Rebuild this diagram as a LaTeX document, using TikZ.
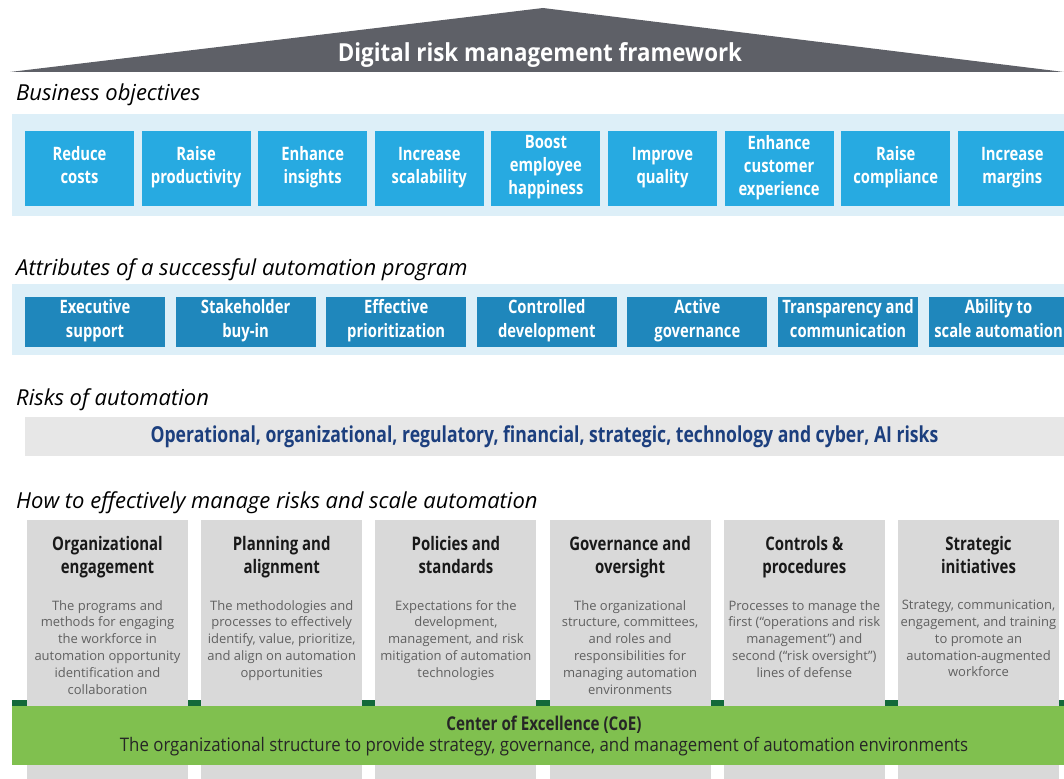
\documentclass[tikz,border=0pt]{standalone}
\usepackage{fontspec}
\setmainfont{Open Sans}
\newfontfamily\condfont[FakeStretch=0.8]{Open Sans}
\newfontfamily\semicondfont[FakeStretch=0.9]{Open Sans}
\definecolor{roofGray}{HTML}{5E6067}
\definecolor{bandBlue}{HTML}{DDEFF8}
\definecolor{objBlue}{HTML}{27AAE1}
\definecolor{attrBlue}{HTML}{1F87BC}
\definecolor{riskGray}{HTML}{E7E7E7}
\definecolor{riskNavy}{HTML}{1C3F7E}
\definecolor{colGray}{HTML}{D9D9D9}
\definecolor{descGray}{HTML}{606060}
\definecolor{coeGreen}{HTML}{80C04F}
\definecolor{coeDark}{HTML}{13693A}
\tikzstyle{secLabel}=[anchor = west, inner sep = 0pt, font = \itshape\fontsize{22}{25}\selectfont]
\tikzstyle{objBox}=[shape = rectangle, fill = objBlue, text = white, align = center, minimum width = 109pt, minimum height = 75pt, inner sep = 0pt, execute at begin node = \strut, execute at end node = \strut, font = \condfont\bfseries\fontsize{18.5}{23}\selectfont]
\tikzstyle{attrBox}=[shape = rectangle, fill = attrBlue, text = white, align = center, minimum width = 140pt, minimum height = 50pt, inner sep = 0pt, execute at begin node = \strut, execute at end node = \strut, font = \condfont\bfseries\fontsize{18.5}{24}\selectfont]

\begin{document}
\begin{tikzpicture}[x = 1pt, y = -1pt]
\tikzstyle{band}=[shape = rectangle, inner sep = 0pt]
\tikzstyle{colBox}=[shape = rectangle, fill = colGray, anchor = north, minimum width = 161pt, minimum height = 262pt, inner sep = 0pt]
\tikzstyle{colTitle}=[anchor = north, align = center, inner sep = 0pt, text = black!90, font = \condfont\bfseries\fontsize{18.7}{23}\selectfont]
\tikzstyle{colText}=[anchor = north, align = center, inner sep = 0pt, text = descGray, font = \fontsize{13}{16.8}\selectfont]
\useasboundingbox (0,0) rectangle (1064,778);
% Roof
\coordinate (roofL) at (10,72);
\coordinate (roofT) at (543,8);
\coordinate (roofR) at (1064,72);
\fill[roofGray] (roofL) -- (roofT) -- (roofR) -- cycle;
\node[text = white, font = \semicondfont\bfseries\fontsize{24.8}{28}\selectfont] (title) at (540,55) {Digital risk management framework};
% Business objectives
\node[secLabel] (lbObj) at (16,95) {Business objectives};
\node[band, fill = bandBlue, minimum width = 1052pt, minimum height = 102pt] (bandObj) at (538,165) {};
\node[objBox] (o1) at (79.5,168.5) {Reduce\\costs};
\node[objBox] (o2) at (196.1,168.5) {Raise\\productivity};
\node[objBox] (o3) at (312.7,168.5) {Enhance\\insights};
\node[objBox] (o4) at (429.3,168.5) {Increase\\scalability};
\node[objBox] (o5) at (545.9,168.5) {Boost\\employee\\happiness};
\node[objBox] (o6) at (662.5,168.5) {Improve\\quality};
\node[objBox] (o7) at (779.1,168.5) {Enhance\\customer\\experience};
\node[objBox] (o8) at (895.7,168.5) {Raise\\compliance};
\node[objBox] (o9) at (1012.3,168.5) {Increase\\margins};
% Attributes
\node[secLabel] (lbAttr) at (16,270) {Attributes of a successful automation program};
\node[band, fill = bandBlue, minimum width = 1052pt, minimum height = 71pt] (bandAttr) at (538,319.5) {};
\node[attrBox] (a1) at (95,322) {Executive\\support};
\node[attrBox] (a2) at (245.6,322) {Stakeholder\\buy-in};
\node[attrBox] (a3) at (396.2,322) {Effective\\prioritization};
\node[attrBox] (a4) at (546.8,322) {Controlled\\development};
\node[attrBox] (a5) at (697.4,322) {Active\\governance};
\node[attrBox] (a6) at (848,322) {Transparency and\\communication};
\node[attrBox] (a7) at (998.6,322) {Ability to\\scale automation};
% Risks
\node[secLabel] (lbRisk) at (16,399.5) {Risks of automation};
\node[band, fill = riskGray, minimum width = 1039pt, minimum height = 39pt, text = riskNavy, font = \condfont\bfseries\fontsize{22}{25}\selectfont] (risk) at (544.5,436.5) {Operational, organizational, regulatory, financial, strategic, technology and cyber, AI risks};
% How to manage
\node[secLabel] (lbHow) at (16,502.5) {How to effectively manage risks and scale automation};
\fill[coeDark] (12,700) rectangle (1064,707);
\node[colBox] (c1) at (107.5,520) {};
\node[colBox] (c2) at (281.7,520) {};
\node[colBox] (c3) at (455.9,520) {};
\node[colBox] (c4) at (630.1,520) {};
\node[colBox] (c5) at (804.3,520) {};
\node[colBox] (c6) at (978.5,520) {};
\node[colTitle] (t1) at (107.5,536) {Organizational\\engagement};
\node[colTitle] (t2) at (281.7,536) {Planning and\\alignment};
\node[colTitle] (t3) at (455.9,536) {Policies and\\standards};
\node[colTitle] (t4) at (630.1,536) {Governance and\\oversight};
\node[colTitle] (t5) at (804.3,536) {Controls \&\\procedures};
\node[colTitle] (t6) at (978.5,536) {Strategic\\initiatives};
\node[colText] (d1) at (107.5,600) {The programs and\\methods for engaging\\the workforce in\\automation opportunity\\identification and\\collaboration};
\node[colText] (d2) at (281.7,600) {The methodologies and\\processes to effectively\\identify, value, prioritize,\\and align on automation\\opportunities};
\node[colText] (d3) at (455.9,600) {Expectations for the\\development,\\management, and risk\\mitigation of automation\\technologies};
\node[colText] (d4) at (630.1,600) {The organizational\\structure, committees,\\and roles and\\responsibilities for\\managing automation\\environments};
\node[colText] (d5) at (804.3,600) {Processes to manage the\\first (“operations and risk\\management”) and\\second (“risk oversight”)\\lines of defense};
\node[colText] (d6) at (978.5,600) {Strategy, communication,\\engagement, and training\\to promote an\\automation-augmented\\workforce};
% Center of Excellence
\node[band, fill = coeGreen, minimum width = 1052pt, minimum height = 59pt] (coe) at (538,735.5) {};
\node[text = black!85, font = \condfont\bfseries\fontsize{19}{22}\selectfont] (coeTitle) at (544,725) {Center of Excellence (CoE)};
\node[text = black!85, font = \semicondfont\fontsize{18.7}{22}\selectfont] (coeText) at (544,746.5) {The organizational structure to provide strategy, governance, and management of automation environments};
\end{tikzpicture}
\end{document}
